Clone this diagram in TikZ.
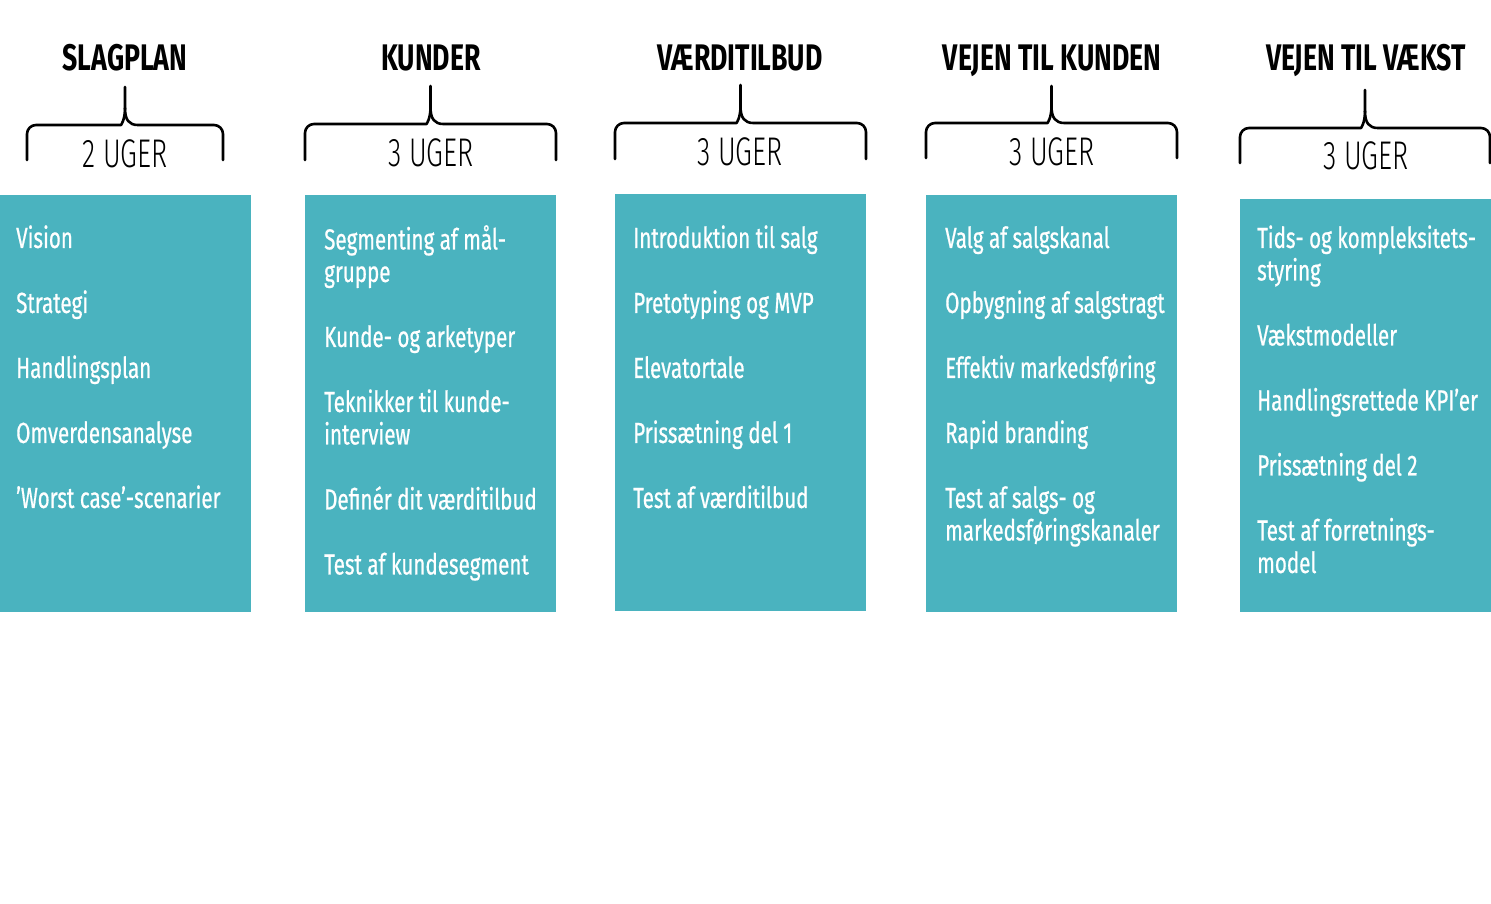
\documentclass[tikz,border=0pt]{standalone}
\usepackage{fontspec}
\setmainfont{Fira Sans}[FakeStretch=0.72]
\newfontfamily\itemfont{Fira Sans}[FakeStretch=0.71, FakeBold=0.6]
\newfontfamily\weekfont{Fira Sans Light}[FakeStretch=0.68]
\usetikzlibrary{positioning, calc}
\definecolor{boxteal}{RGB}{74,179,191}
\newcommand{\itemgap}{\\[32.5pt]}

\begin{document}
\begin{tikzpicture}[
        x=1pt, y=-1pt,
        column/.style={rectangle, fill=boxteal, minimum width=251pt, minimum height=417pt, inner sep=0pt, anchor=north west},
        items/.style={text=white, align=left, anchor=north west, inner sep=0pt, font=\itemfont\fontsize{29}{32.5}\selectfont},
        title/.style={font=\bfseries\fontsize{37}{40}\selectfont, anchor=base},
        weeks/.style={font=\weekfont\fontsize{40}{44}\selectfont, anchor=base},
        brace/.style={line width=2.6pt, line join=round, line cap=round}
    ]
        \useasboundingbox (0,0) rectangle (1491,903);

        % columns
        \node[column] (c1) at (0,195) {};
        \node[column] (c2) at (305,195) {};
        \node[column] (c3) at (615,194) {};
        \node[column] (c4) at (926,195) {};
        \node[column, minimum height=413pt] (c5) at (1240,199) {};

        % headers
        \node[title] (slagplan) at (125,70) {SLAGPLAN};
        \node[title] (kunder) at (431,70) {KUNDER};
        \node[title] (vaerdi) at (740,70) {VÆRDITILBUD};
        \node[title] (kunden) at (1052,70) {VEJEN TIL KUNDEN};
        \node[title] (vaekst) at (1366,70) {VEJEN TIL VÆKST};

        \node[weeks] (w1) at (125,167) {2 UGER};
        \node[weeks] (w2) at (431,166) {3 UGER};
        \node[weeks] (w3) at (740,165) {3 UGER};
        \node[weeks] (w4) at (1052,165) {3 UGER};
        \node[weeks] (w5) at (1366,169) {3 UGER};

        % braces
        \foreach \l/\r/\t/\e/\p in {27/223/125/160/87, 305/556/124/160/86, 615/866/123/159/85, 926/1177/123/158/86, 1240/1490/128/163/90}{
            \pgfmathsetmacro\c{(\l+\r)/2}
            \draw[brace] (\l,\e) [rounded corners=9pt] |- (\c-13,\t) [sharp corners] .. controls (\c-4,\t) and (\c,\t-5) .. (\c,\t-17) -- (\c,\p);
            \draw[brace] (\c,\t-17) .. controls (\c,\t-5) and (\c+4,\t) .. (\c+13,\t) [rounded corners=9pt] -| (\r,\e);
        }

        % items
        \node[items] (i1) at (16,225) {\strut Vision\itemgap Strategi\itemgap Handlingsplan\itemgap Omverdensanalyse\itemgap ’Worst case’-scenarier};
        \node[items] (i2) at (324,225) {\strut Segmenting af mål-\\gruppe\itemgap Kunde- og arketyper\itemgap Teknikker til kunde-\\interview\itemgap Definér dit værditilbud\itemgap Test af kundesegment};
        \node[items] (i3) at (633,225) {\strut Introduktion til salg\itemgap Pretotyping og MVP\itemgap Elevatortale\itemgap Prissætning del 1\itemgap Test af værditilbud};
        \node[items] (i4) at (945,225) {\strut Valg af salgskanal\itemgap Opbygning af salgstragt\itemgap Effektiv markedsføring\itemgap Rapid branding\itemgap Test af salgs- og\\markedsføringskanaler};
        \node[items] (i5) at (1257,225) {\strut Tids- og kompleksitets-\\styring\itemgap Vækstmodeller\itemgap Handlingsrettede KPI’er\itemgap Prissætning del 2\itemgap Test af forretnings-\\model};
    \end{tikzpicture}
\end{document}
